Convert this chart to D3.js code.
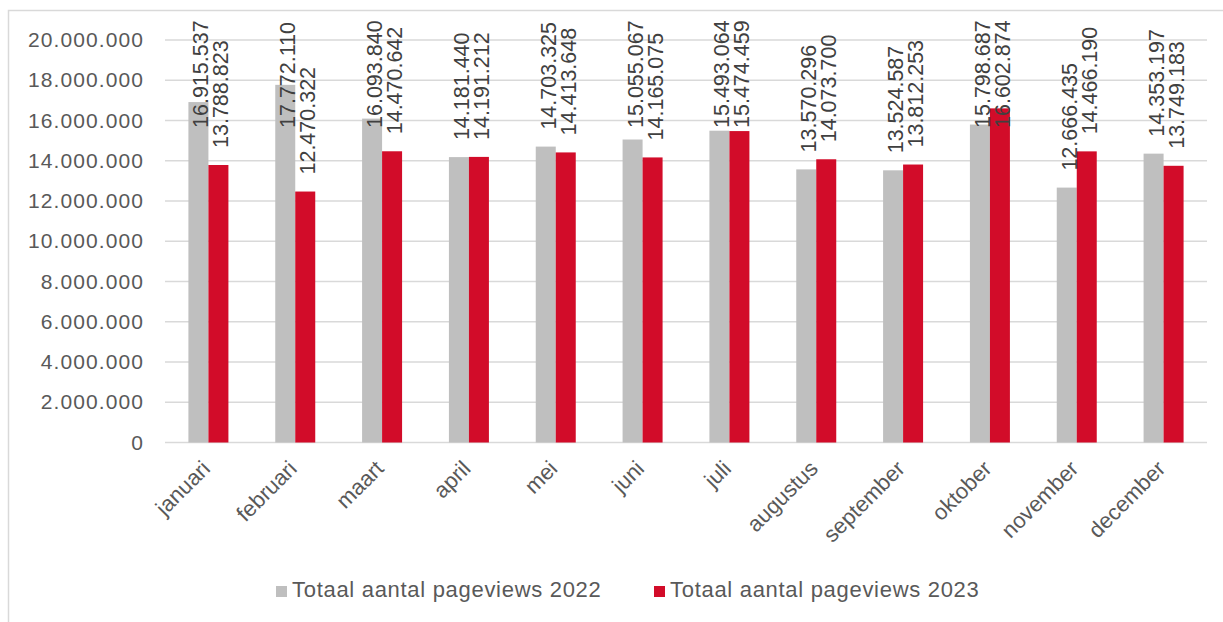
<!DOCTYPE html>
<html>
<head>
<meta charset="utf-8">
<script src="https://cdn.jsdelivr.net/npm/d3@7"></script>
<style>
  html, body { margin: 0; padding: 0; background: #ffffff; }
  svg { display: block; }
</style>
</head>
<body>
<svg id="chart" width="1223" height="622"></svg>
<script>
const months = ["januari","februari","maart","april","mei","juni","juli","augustus","september","oktober","november","december"];
const seriesNames = ["Totaal aantal pageviews 2022","Totaal aantal pageviews 2023"];
const values2022 = [16915537,17772110,16093840,14181440,14703325,15055067,15493064,13570296,13524587,15798687,12666435,14353197];
const values2023 = [13788823,12470322,14470642,14191212,14413648,14165075,15474459,14073700,13812253,16602874,14466190,13749183];
const yTicks = [0,2000000,4000000,6000000,8000000,10000000,12000000,14000000,16000000,18000000,20000000];
const colors = ["#bfbfbf", "#d20c29"];

const svg = d3.select("#chart");
const plot = { left: 165, right: 1207, top: 40, bottom: 442.5 };

// chart border
svg.append("rect")
  .attr("x", 8.5).attr("y", 10.5)
  .attr("width", 1300).attr("height", 700)
  .attr("fill", "#ffffff")
  .attr("stroke", "#d9d9d9").attr("stroke-width", 1.5);

const x0 = d3.scaleBand().domain(months).range([plot.left, plot.right]).padding(0);
const groupW = x0.bandwidth() * 0.4606;
const x1 = d3.scaleBand().domain([0, 1]).range([0, groupW]).padding(0);
const y = d3.scaleLinear().domain([0, 20000000]).range([plot.bottom, plot.top]);

const fmt = d3.formatLocale({ decimal: ",", thousands: ".", grouping: [3], currency: ["€", ""] }).format(",d");

// gridlines
svg.append("g")
  .selectAll("line")
  .data(yTicks)
  .join("line")
  .attr("x1", plot.left).attr("x2", plot.right)
  .attr("y1", d => y(d)).attr("y2", d => y(d))
  .attr("stroke", "#d9d9d9").attr("stroke-width", 1.5);

// y axis labels
const yAxis = d3.axisLeft(y).tickValues(yTicks).tickFormat(fmt).tickSize(0).tickPadding(0);
const yg = svg.append("g").attr("transform", `translate(${plot.left - 21},0)`).call(yAxis);
yg.select(".domain").remove();
yg.selectAll("text")
  .attr("fill", "#595959")
  .style("font-family", "'Liberation Sans', Arial, sans-serif")
  .style("font-size", "21px")
  .style("letter-spacing", "1.1px");

// bars
const data = months.map((m, i) => ({ month: m, vals: [values2022[i], values2023[i]] }));
const groups = svg.append("g").selectAll("g")
  .data(data)
  .join("g")
  .attr("transform", d => `translate(${x0(d.month) + (x0.bandwidth() - groupW) / 2},0)`);

groups.selectAll("rect")
  .data(d => d.vals.map((v, k) => ({ k, v })))
  .join("rect")
  .attr("x", d => x1(d.k))
  .attr("y", d => y(d.v))
  .attr("width", x1.bandwidth())
  .attr("height", d => y(0) - y(d.v))
  .attr("fill", d => colors[d.k]);

// data labels (rotated)
groups.selectAll("text")
  .data(d => d.vals.map((v, k) => ({ k, v })))
  .join("text")
  .attr("transform", d => {
    const cx = x1(d.k) + x1.bandwidth() / 2;
    const yy = Math.max(y(d.v) - 17, 128);
    return `translate(${cx},${yy}) rotate(-90)`;
  })
  .attr("dy", 10)
  .attr("text-anchor", "start")
  .attr("fill", "#404040")
  .style("font-family", "'Liberation Sans', Arial, sans-serif")
  .style("font-size", "21.5px")
  .text(d => fmt(d.v));

// x axis labels
svg.append("g").selectAll("text")
  .data(months)
  .join("text")
  .attr("transform", d => `translate(${x0(d) + x0.bandwidth() / 2 + 3},470) rotate(-45)`)
  .attr("text-anchor", "end")
  .attr("fill", "#595959")
  .style("font-family", "'Liberation Sans', Arial, sans-serif")
  .style("font-size", "22px")
  .text(d => d);

// legend
const legendX = [276, 654];
const leg = svg.append("g").selectAll("g")
  .data(seriesNames)
  .join("g")
  .attr("transform", (d, i) => `translate(${legendX[i]},586)`);
leg.append("rect")
  .attr("width", 11).attr("height", 11)
  .attr("fill", (d, i) => colors[i]);
leg.append("text")
  .attr("x", 16).attr("y", 11)
  .attr("fill", "#595959")
  .style("font-family", "'Liberation Sans', Arial, sans-serif")
  .style("font-size", "22px")
  .style("letter-spacing", "0.7px")
  .text(d => d);
</script>
</body>
</html>
